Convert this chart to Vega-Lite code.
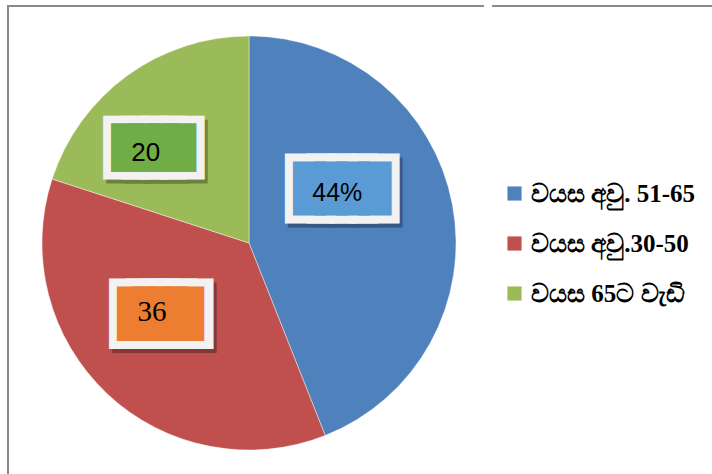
{
  "$schema": "https://vega.github.io/schema/vega-lite/v6.json",
  "padding": {"left": 7, "top": 5, "right": 0, "bottom": 0},
  "background": "#ffffff",
  "spacing": 0,
  "data": {"values": [
    {"group": "වයස අවු. 51-65", "value": 44, "label": "44%"},
    {"group": "වයස අවු.30-50", "value": 36, "label": "36"},
    {"group": "වයස 65ට වැඩි", "value": 20, "label": "20"}
  ]},
  "hconcat": [
    {
      "width": 482,
      "height": 474,
      "view": {"stroke": "#8a8a8a", "strokeWidth": 2, "strokeDash": [476, 940, 2000], "fill": null},
      "layer": [
        {
          "mark": {"type": "arc", "radius": 207, "stroke": "#ffffff", "strokeWidth": 0.7, "strokeOpacity": 0.6},
          "encoding": {
            "theta": {"field": "value", "type": "quantitative", "stack": true},
            "order": {"field": "value", "sort": "descending"},
            "color": {
              "field": "group", "type": "nominal",
              "scale": {"domain": ["වයස අවු. 51-65", "වයස අවු.30-50", "වයස 65ට වැඩි"], "range": ["#4F81BD", "#C0504D", "#9BBB59"]},
              "legend": {
                "orient": "none", "legendX": 494, "legendY": 175, "title": null,
                "symbolType": "square", "symbolSize": 200, "symbolStrokeWidth": 0,
                "labelFont": "Liberation Serif", "labelFontSize": 25, "labelFontWeight": "bold",
                "labelColor": "#000000", "rowPadding": 24, "labelOffset": 4, "labelLimit": 300
              }
            }
          }
        },
        {
          "mark": {"type": "text", "font": "DejaVu Sans Mono", "fontSize": 36.2, "radius": 95, "dx": 3, "dy": -20.2, "align": "center", "baseline": "alphabetic", "fill": "#000000", "stroke": "#000000", "strokeWidth": 26.9, "strokeJoin": "miter", "opacity": 0.3},
          "encoding": {"theta": {"field": "value", "type": "quantitative", "stack": true}, "order": {"field": "value", "sort": "descending"}, "text": {"condition": {"test": "datum.label === '44%'", "value": "████"}, "value": ""}}
        },
        {
          "mark": {"type": "text", "font": "DejaVu Sans Mono", "fontSize": 36.2, "radius": 95, "dx": 0, "dy": -24.2, "align": "center", "baseline": "alphabetic", "fill": "#F2F2F2", "stroke": "#F2F2F2", "strokeWidth": 26.9, "strokeJoin": "miter"},
          "encoding": {"theta": {"field": "value", "type": "quantitative", "stack": true}, "order": {"field": "value", "sort": "descending"}, "text": {"condition": {"test": "datum.label === '44%'", "value": "████"}, "value": ""}}
        },
        {
          "mark": {"type": "text", "font": "DejaVu Sans Mono", "fontSize": 36.2, "radius": 95, "dx": 0, "dy": -24.2, "align": "center", "baseline": "alphabetic", "fill": "#5B9BD5", "stroke": "#5B9BD5", "strokeWidth": 10.9, "strokeJoin": "miter"},
          "encoding": {"theta": {"field": "value", "type": "quantitative", "stack": true}, "order": {"field": "value", "sort": "descending"}, "text": {"condition": {"test": "datum.label === '44%'", "value": "████"}, "value": ""}}
        },
        {
          "mark": {"type": "text", "font": "Liberation Sans", "fontSize": 25, "radius": 95, "dx": -5, "dy": -24, "align": "center", "baseline": "alphabetic", "fill": "#000000"},
          "encoding": {"theta": {"field": "value", "type": "quantitative", "stack": true}, "order": {"field": "value", "sort": "descending"}, "text": {"condition": {"test": "datum.label === '44%'", "field": "label"}, "value": ""}}
        },
        {
          "mark": {"type": "text", "font": "DejaVu Sans Mono", "fontSize": 27.3, "radius": 100, "dx": -16.5, "dy": 11.4, "align": "center", "baseline": "alphabetic", "fill": "#000000", "stroke": "#000000", "strokeWidth": 38.2, "strokeJoin": "miter", "opacity": 0.3},
          "encoding": {"theta": {"field": "value", "type": "quantitative", "stack": true}, "order": {"field": "value", "sort": "descending"}, "text": {"condition": {"test": "datum.label === '36'", "value": "████"}, "value": ""}}
        },
        {
          "mark": {"type": "text", "font": "DejaVu Sans Mono", "fontSize": 27.3, "radius": 100, "dx": -19.5, "dy": 7.4, "align": "center", "baseline": "alphabetic", "fill": "#F2F2F2", "stroke": "#F2F2F2", "strokeWidth": 38.2, "strokeJoin": "miter"},
          "encoding": {"theta": {"field": "value", "type": "quantitative", "stack": true}, "order": {"field": "value", "sort": "descending"}, "text": {"condition": {"test": "datum.label === '36'", "value": "████"}, "value": ""}}
        },
        {
          "mark": {"type": "text", "font": "DejaVu Sans Mono", "fontSize": 26.5, "radius": 100, "dx": -20, "dy": 7.2, "align": "center", "baseline": "alphabetic", "fill": "#ED7D31", "stroke": "#ED7D31", "strokeWidth": 23.1, "strokeJoin": "miter"},
          "encoding": {"theta": {"field": "value", "type": "quantitative", "stack": true}, "order": {"field": "value", "sort": "descending"}, "text": {"condition": {"test": "datum.label === '36'", "value": "████"}, "value": ""}}
        },
        {
          "mark": {"type": "text", "font": "Liberation Serif", "fontSize": 29, "radius": 100, "dx": -28.5, "dy": 5.6, "align": "center", "baseline": "alphabetic", "fill": "#000000"},
          "encoding": {"theta": {"field": "value", "type": "quantitative", "stack": true}, "order": {"field": "value", "sort": "descending"}, "text": {"condition": {"test": "datum.label === '36'", "field": "label"}, "value": ""}}
        },
        {
          "mark": {"type": "text", "font": "DejaVu Sans Mono", "fontSize": 30.5, "radius": 118, "dx": -23, "dy": 14.6, "align": "center", "baseline": "alphabetic", "fill": "#000000", "stroke": "#000000", "strokeWidth": 27.5, "strokeJoin": "miter", "opacity": 0.3},
          "encoding": {"theta": {"field": "value", "type": "quantitative", "stack": true}, "order": {"field": "value", "sort": "descending"}, "text": {"condition": {"test": "datum.label === '20'", "value": "████"}, "value": ""}}
        },
        {
          "mark": {"type": "text", "font": "DejaVu Sans Mono", "fontSize": 30.5, "radius": 118, "dx": -26, "dy": 10.6, "align": "center", "baseline": "alphabetic", "fill": "#F2F2F2", "stroke": "#F2F2F2", "strokeWidth": 27.5, "strokeJoin": "miter"},
          "encoding": {"theta": {"field": "value", "type": "quantitative", "stack": true}, "order": {"field": "value", "sort": "descending"}, "text": {"condition": {"test": "datum.label === '20'", "value": "████"}, "value": ""}}
        },
        {
          "mark": {"type": "text", "font": "DejaVu Sans Mono", "fontSize": 29.7, "radius": 118, "dx": -26, "dy": 10.8, "align": "center", "baseline": "alphabetic", "fill": "#70AD47", "stroke": "#70AD47", "strokeWidth": 13.4, "strokeJoin": "miter"},
          "encoding": {"theta": {"field": "value", "type": "quantitative", "stack": true}, "order": {"field": "value", "sort": "descending"}, "text": {"condition": {"test": "datum.label === '20'", "value": "████"}, "value": ""}}
        },
        {
          "mark": {"type": "text", "font": "Liberation Sans", "fontSize": 26, "radius": 118, "dx": -34, "dy": 13.5, "align": "center", "baseline": "alphabetic", "fill": "#000000"},
          "encoding": {"theta": {"field": "value", "type": "quantitative", "stack": true}, "order": {"field": "value", "sort": "descending"}, "text": {"condition": {"test": "datum.label === '20'", "field": "label"}, "value": ""}}
        }
      ]
    },
    {
      "width": 240,
      "height": 474,
      "view": {"stroke": "#8a8a8a", "strokeWidth": 2, "strokeDash": [240, 5000], "fill": null},
      "mark": {"type": "text"},
      "encoding": {"text": {"value": ""}}
    }
  ]
}
